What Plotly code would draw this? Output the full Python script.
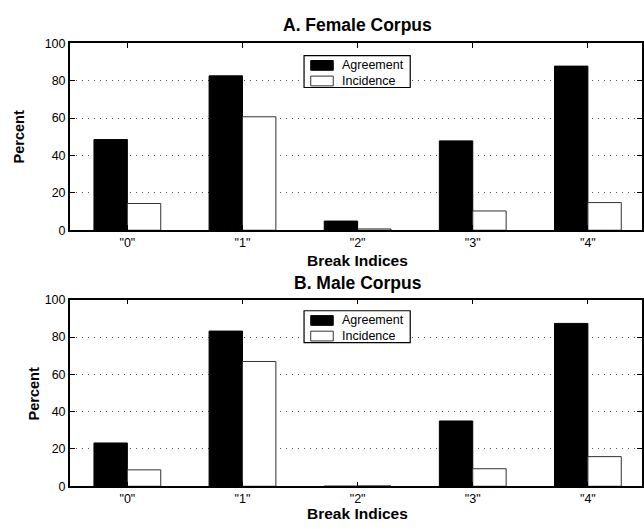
import plotly.graph_objects as go
from plotly.subplots import make_subplots

categories = ['"0"', '"1"', '"2"', '"3"', '"4"']
series_names = ["Agreement", "Incidence"]
female_agreement = [48.5, 82.6, 4.9, 47.8, 87.8]
female_incidence = [14.3, 60.7, 0.7, 10.3, 14.8]
male_agreement = [23.2, 83.2, 0.0, 35.0, 87.3]
male_incidence = [8.8, 66.9, 0.2, 9.4, 15.9]
y_ticks = [0, 20, 40, 60, 80, 100]

W, H = 644, 529
FONT = "Liberation Sans, Arial, sans-serif"
FILLS = ["black", "white"]
EDGES = ["black", "#333"]

fig = make_subplots(rows=2, cols=1)

x_idx = list(range(len(categories)))

def add_pair(row, agr, inc):
    for name, vals, fill, edge in zip(series_names, [agr, inc], FILLS, EDGES):
        fig.add_trace(go.Bar(x=x_idx, y=vals, name=name,
                             marker=dict(color=fill, line=dict(color=edge, width=1)),
                             showlegend=False), row=row, col=1)

add_pair(1, female_agreement, female_incidence)
add_pair(2, male_agreement, male_incidence)

xdom = [70 / W, 1.0]
top_dom = [1 - 229.3 / H, 1 - 37.3 / H]
bot_dom = [1 - 492.3 / H, 1 - 300.7 / H]

axis_common = dict(showline=True, linecolor="black", linewidth=1.5, mirror="ticks",
                   ticks="inside", ticklen=5, tickcolor="black",
                   tickfont=dict(family=FONT, size=12.5, color="black"))

for i, dom in [(1, top_dom), (2, bot_dom)]:
    fig.update_xaxes(row=i, col=1, domain=xdom, range=[-0.5, 4.47],
                     tickvals=x_idx, ticktext=categories, showgrid=False,
                     zeroline=False, **axis_common)
    fig.update_yaxes(row=i, col=1, domain=dom, range=[0, 100], tickvals=y_ticks,
                     showgrid=True, gridcolor="#555", griddash="1px,5px", gridwidth=1,
                     zeroline=False, **axis_common)

fig.update_layout(
    width=W, height=H,
    margin=dict(l=0, r=0, t=0, b=0),
    paper_bgcolor="white", plot_bgcolor="white",
    barmode="group", bargap=0.42, bargroupgap=0,
    showlegend=False,
    font=dict(family=FONT, color="black"),
)

def ann(text, x, y, size, angle=0, bold=True, xanchor="center"):
    fig.add_annotation(text=f"<b>{text}</b>" if bold else text, x=x / W, y=1 - y / H,
                       xref="paper", yref="paper",
                       showarrow=False, textangle=angle, xanchor=xanchor, yanchor="middle",
                       font=dict(family=FONT, size=size, color="black"))

ann("A. Female Corpus", 359, 19, 17.5)
ann("B. Male Corpus", 359, 283, 17.5)
ann("Break Indices", 359, 260, 15.5)
ann("Break Indices", 359, 520.7, 15.5)
ann("Percent", 20, 133, 14.5, -90)
ann("Percent", 35, 397, 14.5, -90)

# legends (one per panel)
def rect(x0, y0, x1, y1, fill, line_color, lw=1):
    fig.add_shape(type="rect", xref="paper", yref="paper",
                  x0=x0 / W, x1=x1 / W, y0=1 - y1 / H, y1=1 - y0 / H,
                  fillcolor=fill, line=dict(color=line_color, width=lw), layer="above")

for top in (50, 312):
    rect(305, top, 411.5, top + 32.7, "white", "black", 1.2)
    for k, (name, fill, edge) in enumerate(zip(series_names, FILLS, EDGES)):
        sy = top + 5 + k * 16
        rect(311.7, sy, 334.3, sy + 10, fill, edge, 1)
        ann(name, 341, sy + 5, 12.5, bold=False, xanchor="left")

fig.write_html("out.html", config={"displayModeBar": False},
               post_script="document.body.style.margin='0';")
